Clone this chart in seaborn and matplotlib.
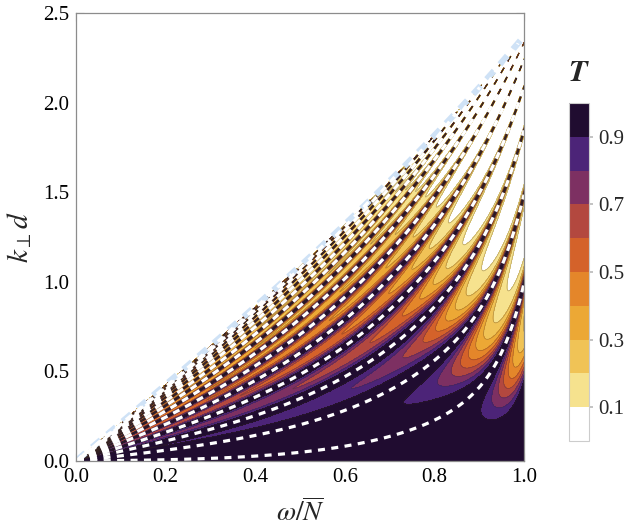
import numpy as np
import matplotlib
matplotlib.use("Agg")
import matplotlib.pyplot as plt
from matplotlib.colors import ListedColormap, BoundaryNorm
from matplotlib.ticker import MultipleLocator
import seaborn as sns

# colour bands of T (0 .. 1, step 0.1)
levels = [0.0, 0.1, 0.2, 0.3, 0.4, 0.5, 0.6, 0.7, 0.8, 0.9, 1.0]
band_colors = ["#ffffff", "#f6e28e", "#f0c356", "#eca835", "#e4862a",
               "#d4622a", "#b3483f", "#7d3062", "#4c2478", "#200c30"]
cbar_ticks = [0.1, 0.3, 0.5, 0.7, 0.9]

x_ticks = [0.0, 0.2, 0.4, 0.6, 0.8, 1.0]
y_ticks = [0.0, 0.5, 1.0, 1.5, 2.0, 2.5]

# resonance orders shown as white dashed curves
modes = list(range(15))

# model parameters (fitted by eye to the figure)
kc_slope, kc_bend = 2.12, 0.2          # cut-off k_perp d(omega)
phase_a, phase_b, phase_sat = 26.6, 15.0, 0.96
shift_a, shift_b, shift_c = 0.1, 0.85, 0.62
finesse, finesse_eps = 3.6, 0.364
edge_gain, edge_mid, edge_width = 18.0, 0.94, 0.045


def transmission():
    w = np.linspace(0.002, 1.0, 900)
    k = np.linspace(0.0, 2.5, 900)
    W, K = np.meshgrid(w, k)
    kc = kc_slope * W / np.sqrt(1 - kc_bend * W**2)
    g = np.clip(K / kc, 0, 1.0)
    A = phase_a - phase_b * W**2
    delta = shift_a + shift_b * W**2 + shift_c * W**18
    psi = A * np.arctanh(phase_sat * g) / np.pi - delta
    edge = 1 + edge_gain * (g / 0.3) / (1 + np.exp(-(W - edge_mid) / edge_width))
    F = finesse * g**2 / (1 - g**2 + finesse_eps) * edge
    T = 1 / (1 + F * np.sin(np.pi * psi)**2)
    outside = K >= kc
    T[outside] = 0.0
    psi[outside] = np.nan
    return W, K, T, psi, K / kc


W, K, T, psi, ratio = transmission()

sns.set_theme(style="ticks")
plt.rcParams["font.family"] = ["Liberation Serif", "DejaVu Serif"]
plt.rcParams["mathtext.fontset"] = "stix"

fig = plt.figure(figsize=(6.31, 5.31), dpi=100)
ax = fig.add_axes([0.1204, 0.1318, 0.7100, 0.8437])
cax = fig.add_axes([0.9017, 0.1695, 0.0317, 0.6365])

cmap = ListedColormap(band_colors)
norm = BoundaryNorm(levels, cmap.N)
cf = ax.contourf(W, K, T, levels=levels, cmap=cmap, norm=norm)
ax.contour(W, K, T, levels=levels[1:-1], colors="#3b2a1e", linewidths=0.5, alpha=0.35)

ax.contour(W, K, ratio, levels=[1.0], colors="#cfe2f6", linewidths=4.5,
           linestyles=[(0, (1.8, 1.4))])
ax.contour(W, K, psi, levels=modes, colors="white", linewidths=2.3,
           linestyles=[(0, (2.2, 2.0))])

ax.set_xlim(0, 1)
ax.set_ylim(0, 2.5)
ax.set_xticks(x_ticks)
ax.set_xticklabels([f"{v:.1f}" for v in x_ticks])
ax.set_yticks(y_ticks)
ax.set_yticklabels([f"{v:.1f}" for v in y_ticks])
ax.xaxis.set_minor_locator(MultipleLocator(0.05))
ax.yaxis.set_minor_locator(MultipleLocator(0.1))
ax.tick_params(which="both", direction="in", top=True, right=True, color="#8c8c8c",
               labelsize=15, labelcolor="black", pad=5)
ax.tick_params(which="major", length=6, width=0.8)
ax.tick_params(which="minor", length=3.5, width=0.6)
for s in ax.spines.values():
    s.set_color("#8c8c8c")
    s.set_linewidth(0.9)

ax.set_xlabel(r"$\omega/\overline{N}$", fontsize=20, labelpad=8)
ax.set_ylabel(r"$k_{\perp}d$", fontsize=21, labelpad=6)

cb = fig.colorbar(cf, cax=cax, ticks=cbar_ticks)
cb.ax.minorticks_off()
cb.ax.set_yticklabels([f"{v:.1f}" for v in cbar_ticks])
cb.ax.tick_params(labelsize=15, length=3, color="#bbbbbb", direction="out")
cb.outline.set_edgecolor("#cccccc")
cb.outline.set_linewidth(0.8)
cb.ax.set_title(r"$\boldsymbol{T}$", fontsize=22, pad=16)

fig.savefig("out.png", dpi=100)
